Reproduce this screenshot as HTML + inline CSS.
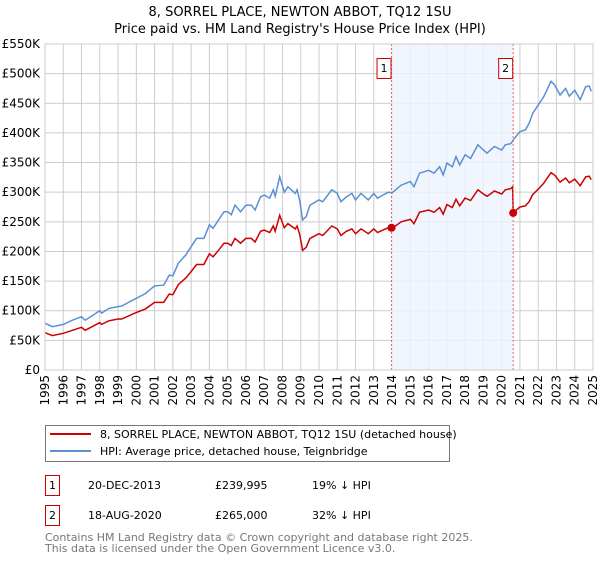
<!DOCTYPE html>
<html><head><meta charset="utf-8"><style>
body{margin:0;background:#fff;width:600px;height:560px;overflow:hidden;font-family:"DejaVu Sans","Liberation Sans",sans-serif}
text{font-family:"DejaVu Sans","Liberation Sans",sans-serif}
</style></head><body>
<svg id="chart" width="600" height="560" xmlns="http://www.w3.org/2000/svg">
<text x="300" y="16" text-anchor="middle" font-size="13">8, SORREL PLACE, NEWTON ABBOT, TQ12 1SU</text>
<text x="300" y="33" text-anchor="middle" font-size="13">Price paid vs. HM Land Registry's House Price Index (HPI)</text>
<g id="grid"></g><g id="shade"></g><g id="series"></g><g id="axes"></g>
<g>
<rect x="45.5" y="425.5" width="404" height="36" fill="#fff" stroke="#777"/>
<line x1="50" y1="434" x2="91" y2="434" stroke="#cc0000" stroke-width="2"/>
<text x="100" y="438" font-size="11">8, SORREL PLACE, NEWTON ABBOT, TQ12 1SU (detached house)</text>
<line x1="50" y1="451" x2="91" y2="451" stroke="#5b8fd4" stroke-width="2"/>
<text x="100" y="455" font-size="11">HPI: Average price, detached house, Teignbridge</text>
</g>
<g font-size="11">
<rect x="45.5" y="475.5" width="14" height="20" fill="#fff" stroke="#cc0000"/>
<text x="52.5" y="489" text-anchor="middle">1</text>
<text x="88" y="489">20-DEC-2013</text><text x="215" y="489">£239,995</text><text x="312" y="489">19% ↓ HPI</text>
<rect x="45.5" y="505.5" width="14" height="20" fill="#fff" stroke="#cc0000"/>
<text x="52.5" y="519" text-anchor="middle">2</text>
<text x="88" y="519">18-AUG-2020</text><text x="215" y="519">£265,000</text><text x="312" y="519">32% ↓ HPI</text>
</g>
<text x="45" y="541" font-size="11" fill="#777">Contains HM Land Registry data © Crown copyright and database right 2025.</text>
<text x="45" y="552" font-size="11" fill="#777">This data is licensed under the Open Government Licence v3.0.</text>
</svg>
<script>
const dates=[1995.0,1995.4,1996.0,1996.5,1997.0,1997.2,1998.0,1998.1,1998.5,1999.0,1999.2,2000.0,2000.5,2001.0,2001.5,2001.8,2002.0,2002.3,2002.7,2003.0,2003.3,2003.7,2004.0,2004.2,2004.5,2004.8,2005.0,2005.2,2005.4,2005.7,2006.0,2006.3,2006.5,2006.8,2007.0,2007.3,2007.5,2007.6,2007.85,2008.1,2008.3,2008.7,2008.8,2008.95,2009.1,2009.3,2009.5,2010.0,2010.2,2010.7,2011.0,2011.2,2011.5,2011.8,2012.0,2012.3,2012.7,2013.0,2013.2,2013.5,2013.8,2014.0,2014.5,2015.0,2015.2,2015.5,2016.0,2016.3,2016.6,2016.8,2017.0,2017.3,2017.5,2017.7,2018.0,2018.3,2018.7,2019.0,2019.2,2019.6,2020.0,2020.2,2020.5,2020.6,2020.63,2021.0,2021.3,2021.5,2021.7,2022.0,2022.3,2022.7,2022.9,2023.2,2023.5,2023.7,2024.0,2024.3,2024.6,2024.8,2024.9];
const hpiValues=[79,73,77,84,90,84,100,96,104,107,108,121,129,142,143,160,159,180,194,208,222,222,245,239,253,267,267,262,278,267,278,278,270,292,295,290,304,293,326,300,309,298,304,285,253,259,278,287,284,304,298,284,292,298,287,298,287,298,290,295,300,299,312,318,309,332,337,332,343,329,349,343,360,346,363,357,380,371,366,377,371,380,382,386,388,402,405,416,433,447,461,487,481,464,475,462,472,456,478,479,470];
const propertyValues=[63,58,62,67,72,67,80,77,83,86,86,97,103,114,114,128,127,144,155,166,178,178,196,191,202,214,214,210,222,214,222,222,216,234,236,232,243,234,261,240,247,238,243,228,202,207,222,230,227,243,238,227,234,238,230,238,230,238,232,236,240,239,250,254,247,266,270,266,274,263,279,274,288,277,290,286,304,297,293,302,297,304,306,309,265,275,277,284,296,305,315,333,329,317,324,316,322,311,326,327,321];
const saleDates=[2013.97,2020.63];
const salePrices=[240,265];
const saleLabels=["1","2"];
const yTicks=[0,50,100,150,200,250,300,350,400,450,500,550];
const yTickLabels=["£0","£50K","£100K","£150K","£200K","£250K","£300K","£350K","£400K","£450K","£500K","£550K"];
const xTicks=[1995,1996,1997,1998,1999,2000,2001,2002,2003,2004,2005,2006,2007,2008,2009,2010,2011,2012,2013,2014,2015,2016,2017,2018,2019,2020,2021,2022,2023,2024,2025];

const X0=45,X1=593,Y0=370,Y1=44;
const xs=v=>X0+(v-1995)/30*(X1-X0);
const ys=v=>Y0-v/550*(Y0-Y1);
const NS="http://www.w3.org/2000/svg";
function mk(tag,parent,attrs){const e=document.createElementNS(NS,tag);for(const k in attrs)e.setAttribute(k,attrs[k]);parent.appendChild(e);return e;}
const grid=document.getElementById('grid'),shade=document.getElementById('shade'),series=document.getElementById('series'),axes=document.getElementById('axes');
yTicks.forEach((t,i)=>{
 const l=mk('line',grid,{x1:X0,x2:X1,y1:ys(t),y2:ys(t),stroke:'#cccccc','stroke-width':1});
 
 
 const tx=mk('text',axes,{x:40,y:ys(t)+4,'text-anchor':'end','font-size':12});
 tx.textContent=yTickLabels[i];
 
 
});
xTicks.forEach(t=>{
 const l=mk('line',grid,{x1:xs(t),x2:xs(t),y1:Y1,y2:Y0,stroke:'#cccccc','stroke-width':1});
 
 
 const tx=mk('text',axes,{x:0,y:0,'font-size':12,'text-anchor':'end',transform:`translate(${xs(t)+4},375) rotate(-90)`});
 tx.textContent=String(t);
 
 
});
const sh=mk('rect',shade,{x:xs(saleDates[0]),y:Y1,width:xs(saleDates[1])-xs(saleDates[0]),height:Y0-Y1,fill:'#eef3fd','fill-opacity':0.8});


const bx=mk('rect',axes,{x:X0,y:Y1,width:X1-X0,height:Y0-Y1,fill:'none',stroke:'#cccccc'});


function path(vals){return vals.map((v,i)=>(i?'L':'M')+xs(dates[i]).toFixed(1)+','+ys(v).toFixed(1)).join('');}
const hp=mk('path',series,{d:path(hpiValues),fill:'none',stroke:'#5b8fd4','stroke-width':1.5});


const pp=mk('path',series,{d:path(propertyValues),fill:'none',stroke:'#cc0000','stroke-width':1.5});


saleDates.forEach((d,i)=>{
 const vl=mk('line',series,{x1:xs(d),x2:xs(d),y1:Y1,y2:Y0,stroke:'#e06666','stroke-dasharray':'2,2','stroke-width':1});
 
 
 const c=mk('circle',series,{cx:xs(d),cy:ys(salePrices[i]),r:4,fill:'#cc0000'});
 
 
 const r=mk('rect',series,{x:xs(d)-14.5,y:58.5,width:14,height:20,fill:'#fff',stroke:'#cc0000'});
 
 
 const t=mk('text',series,{x:xs(d)-7.5,y:72,'text-anchor':'middle','font-size':11});
 t.textContent=saleLabels[i];
 
 
});
</script>
</body></html>
